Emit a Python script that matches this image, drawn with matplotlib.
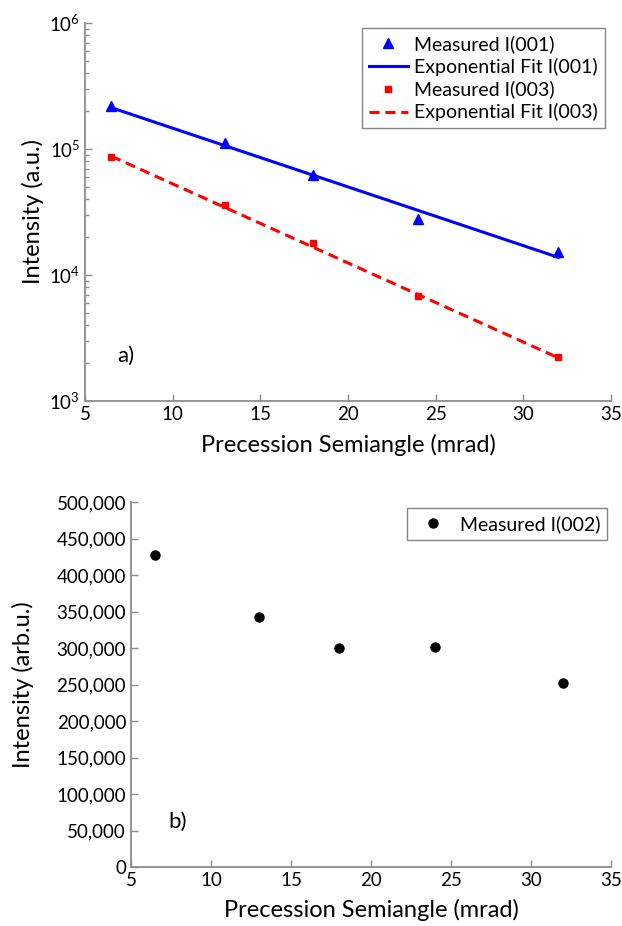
import matplotlib
matplotlib.use("Agg")
import matplotlib.pyplot as plt
from matplotlib.ticker import FuncFormatter, LogLocator
import numpy as np

plt.rcParams['font.family'] = ['Lato', 'DejaVu Sans']
plt.rcParams['mathtext.fontset'] = 'custom'
plt.rcParams['mathtext.rm'] = 'Lato'
plt.rcParams['mathtext.it'] = 'Lato:italic'
plt.rcParams['mathtext.bf'] = 'Lato:bold'

# ---- data (a) ----
angle = [6.5, 13, 18, 24, 32]
i001 = [2.18e5, 1.12e5, 6.2e4, 2.77e4, 1.51e4]
i003 = [8.65e4, 3.62e4, 1.80e4, 6.8e3, 2.23e3]
fit_x = [6.5, 32]
fit001 = [2.13e5, 1.38e4]
fit003 = [8.77e4, 2.2e3]

# ---- data (b) ----
i002 = [427000, 342000, 300000, 302000, 252000]

xticks = [5, 10, 15, 20, 25, 30, 35]
yticks_b = [0, 50000, 100000, 150000, 200000, 250000, 300000, 350000, 400000, 450000, 500000]

W, H = 622, 926
fig = plt.figure(figsize=(W / 100, H / 100), dpi=100)

def px_axes(l, r, t, b):
    return fig.add_axes([l / W, 1 - b / H, (r - l) / W, (b - t) / H])

grey = '#8c8c8c'

def style(ax):
    for s in ['top', 'right']:
        ax.spines[s].set_visible(False)
    for s in ['left', 'bottom']:
        ax.spines[s].set_color(grey)
        ax.spines[s].set_linewidth(1.3)
    ax.tick_params(which='both', direction='in', color=grey, labelsize=13.5, width=1)
    ax.tick_params(which='major', length=5)
    ax.tick_params(which='minor', length=3)

leg_kw = dict(fontsize=14, frameon=True, fancybox=False, numpoints=1, handlelength=2.0,
              borderpad=0.35, labelspacing=0.25, handletextpad=0.35, borderaxespad=0,
              loc='upper right')

# ---- top panel ----
ax1 = px_axes(85, 611, 23, 401)
ax1.set_yscale('log')
ax1.plot(angle, i001, linestyle='none', marker='^', color='#0000ff', markersize=7, label='Measured I(001)')
ax1.plot(fit_x, fit001, '-', color='#0000ff', linewidth=2.2, label='Exponential Fit I(001)')
ax1.plot(angle, i003, linestyle='none', marker='s', color='#ff0000', markersize=5, label='Measured I(003)')
ax1.plot(fit_x, fit003, '--', color='#ff0000', linewidth=2.2, dashes=(3.3, 1.9), label='Exponential Fit I(003)')
ax1.set_xlim(5, 35)
ax1.set_ylim(1e3, 1e6)
ax1.set_xticks(xticks)
ax1.yaxis.set_major_locator(LogLocator(base=10, numticks=10))
ax1.yaxis.set_minor_locator(LogLocator(base=10, subs=np.arange(2, 10), numticks=20))
style(ax1)
ax1.set_xlabel('Precession Semiangle (mrad)', fontsize=17)
ax1.set_ylabel('Intensity (a.u.)', fontsize=17)
ax1.xaxis.set_label_coords(0.5, -0.087)
ax1.yaxis.set_label_coords(-0.078, 0.5)
ax1.text(7.3, 2.3e3, 'a)', fontsize=16, ha='center', va='center')
leg1 = ax1.legend(bbox_to_anchor=(605 / W, 1 - 28 / H), bbox_transform=fig.transFigure, **leg_kw)
leg1.get_frame().set_edgecolor('#666666')
leg1.get_frame().set_linewidth(1.0)

# ---- bottom panel ----
ax2 = px_axes(131, 611, 502, 867)
ax2.plot(angle, i002, linestyle='none', marker='o', color='black', markersize=6.5, label='Measured I(002)')
ax2.set_xlim(5, 35)
ax2.set_ylim(0, 500000)
ax2.set_xticks(xticks)
ax2.set_yticks(yticks_b)
ax2.yaxis.set_major_formatter(FuncFormatter(lambda v, p: '{:,.0f}'.format(v)))
style(ax2)
ax2.set_xlabel('Precession Semiangle (mrad)', fontsize=17)
ax2.set_ylabel('Intensity (arb.u.)', fontsize=17)
ax2.xaxis.set_label_coords(0.5, -0.088)
ax2.yaxis.set_label_coords(-0.202, 0.5)
ax2.text(7.9, 61600, 'b)', fontsize=16, ha='center', va='center')
leg2 = ax2.legend(bbox_to_anchor=(607 / W, 1 - 508 / H), bbox_transform=fig.transFigure, **leg_kw)
leg2.get_frame().set_edgecolor('#666666')
leg2.get_frame().set_linewidth(1.0)

fig.savefig('out.png', dpi=100)
